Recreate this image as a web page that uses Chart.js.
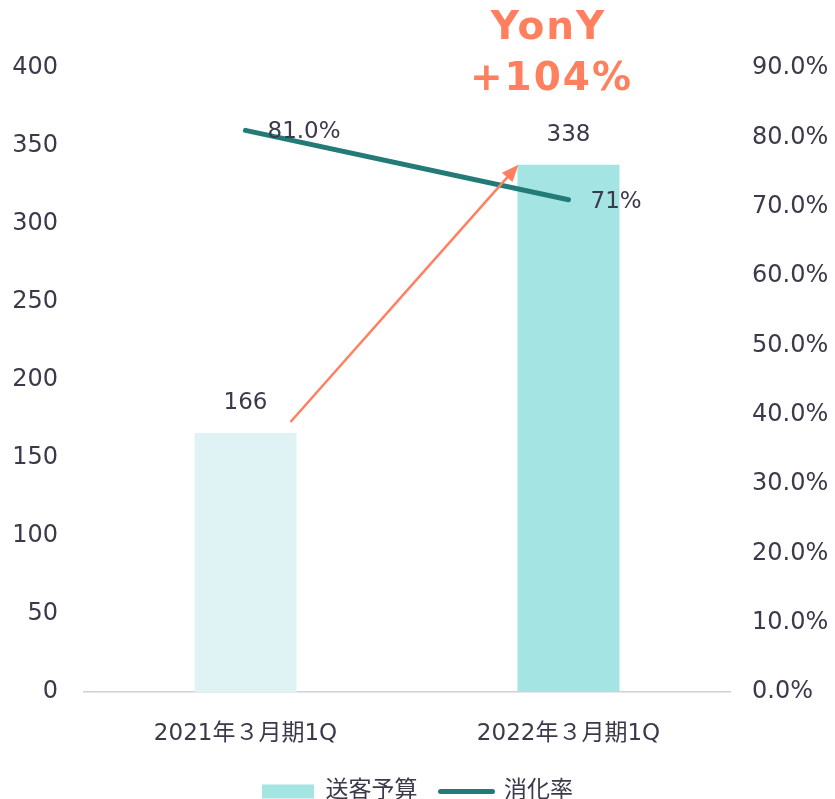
<!DOCTYPE html>
<html>
<head>
<meta charset="utf-8">
<script src="https://cdn.jsdelivr.net/npm/chart.js@4"></script>
<style>
  html, body { margin: 0; padding: 0; background: #fff; }
  #wrap { width: 835px; height: 799px; }
</style>
</head>
<body>
<div id="wrap"><canvas id="ch"></canvas></div>
<script>
/* ── data ── */
const categories  = ['2021年３月期1Q', '2022年３月期1Q'];
const budget      = [166, 338];            // 送客予算
const usageRate   = [81.0, 71.0];          // 消化率 (%)
const usageLabels = ['81.0%', '71%'];
const leftTicks   = { min: 0, max: 400, step: 50 };
const rightTicks  = { min: 0, max: 90, step: 10 };
const yoyText     = ['YonY', '+104%'];

const barColors = ['#dff3f4', '#a4e4e3'];
const lineColor = '#237b78';
const textColor = '#3a3a4a';
const accent    = '#ff7f5e';

Chart.defaults.font.family = "'DejaVu Sans', 'Noto Sans CJK JP', sans-serif";
Chart.defaults.font.size = 24;
Chart.defaults.color = textColor;

/* ── labels + YonY arrow ── */
const overlay = {
  id: 'overlay',
  afterDatasetsDraw(chart) {
    const ctx = chart.ctx;
    const bars = chart.getDatasetMeta(0).data;
    const pts  = chart.getDatasetMeta(1).data;
    const y = chart.scales.y;

    ctx.save();
    // bar value labels
    ctx.fillStyle = textColor;
    ctx.font = "23px 'DejaVu Sans'";
    ctx.textAlign = 'center';
    ctx.textBaseline = 'middle';
    bars.forEach((b, i) => ctx.fillText(String(budget[i]), b.x, b.y - 30));

    // line value labels
    ctx.textAlign = 'left';
    pts.forEach((p, i) => ctx.fillText(usageLabels[i], p.x + 22, p.y + 2));

    // arrow
    const x0 = bars[0].x + 45, y0 = y.getPixelForValue(budget[0]) - 11;
    const x1 = bars[1].x - bars[1].width / 2 + 1, y1 = y.getPixelForValue(budget[1]);
    const ang = Math.atan2(y1 - y0, x1 - x0);
    const hl = 17, hw = 7;
    ctx.strokeStyle = accent;
    ctx.fillStyle = accent;
    ctx.lineWidth = 2.5;
    ctx.beginPath();
    ctx.moveTo(x0, y0);
    ctx.lineTo(x1 - Math.cos(ang) * hl * 0.8, y1 - Math.sin(ang) * hl * 0.8);
    ctx.stroke();
    ctx.beginPath();
    ctx.moveTo(x1, y1);
    ctx.lineTo(x1 - Math.cos(ang) * hl - Math.sin(ang) * hw, y1 - Math.sin(ang) * hl + Math.cos(ang) * hw);
    ctx.lineTo(x1 - Math.cos(ang) * hl + Math.sin(ang) * hw, y1 - Math.sin(ang) * hl - Math.cos(ang) * hw);
    ctx.closePath();
    ctx.fill();

    // YonY text
    ctx.font = "bold 39px 'DejaVu Sans'";
    ctx.textAlign = 'center';
    ctx.textBaseline = 'alphabetic';
    try { ctx.letterSpacing = '2px'; } catch (e) {}
    const cx = bars[1].x - 18;
    ctx.fillText(yoyText[0], cx - 2, 39);
    ctx.fillText(yoyText[1], cx + 1, 90);
    ctx.restore();
  }
};

new Chart(document.getElementById('ch'), {
  data: {
    labels: categories,
    datasets: [
      {
        type: 'bar', label: '送客予算', data: budget, yAxisID: 'y',
        backgroundColor: barColors, borderWidth: 0,
        barPercentage: 0.316, categoryPercentage: 1, order: 1
      },
      {
        type: 'line', label: '消化率', data: usageRate, yAxisID: 'y1',
        borderColor: lineColor, backgroundColor: lineColor, borderWidth: 5,
        borderCapStyle: 'round', pointRadius: 0, tension: 0, order: 0
      }
    ]
  },
  options: {
    responsive: true, maintainAspectRatio: false, animation: false,
    layout: { padding: { top: 68, left: 0, right: 0, bottom: -14 } },
    plugins: {
      tooltip: { enabled: false },
      legend: {
        position: 'bottom',
        labels: {
          usePointStyle: true, pointStyleWidth: 52, boxHeight: 14,
          padding: 23, font: { size: 23 }, color: textColor,
          generateLabels: chart => {
            const items = Chart.defaults.plugins.legend.labels.generateLabels(chart);
            items.sort((a, b) => a.datasetIndex - b.datasetIndex);
            items.forEach(it => {
              if (it.datasetIndex === 0) {
                it.pointStyle = 'rect'; it.fillStyle = barColors[1];
                it.strokeStyle = barColors[1]; it.lineWidth = 0;
              } else {
                it.pointStyle = 'line'; it.strokeStyle = lineColor;
                it.lineWidth = 5; it.lineCap = 'round';
              }
            });
            return items;
          }
        }
      }
    },
    scales: {
      x: {
        grid: { display: false, drawTicks: false },
        border: { display: true, color: '#d0d0d8', width: 1.5 },
        ticks: { padding: 28, font: { size: 23 } },
        afterFit: s => { s.height = 65; }
      },
      y: {
        position: 'left', min: leftTicks.min, max: leftTicks.max,
        grid: { display: false, drawTicks: false },
        border: { display: false },
        ticks: { stepSize: leftTicks.step, padding: 26 },
        afterFit: s => { s.width = 84; }
      },
      y1: {
        position: 'right', min: rightTicks.min, max: rightTicks.max,
        grid: { display: false, drawTicks: false },
        border: { display: false },
        ticks: { stepSize: rightTicks.step, padding: 22, callback: v => v.toFixed(1) + '%' },
        afterFit: s => { s.width = 105; }
      }
    }
  },
  plugins: [overlay]
});
</script>
</body>
</html>
